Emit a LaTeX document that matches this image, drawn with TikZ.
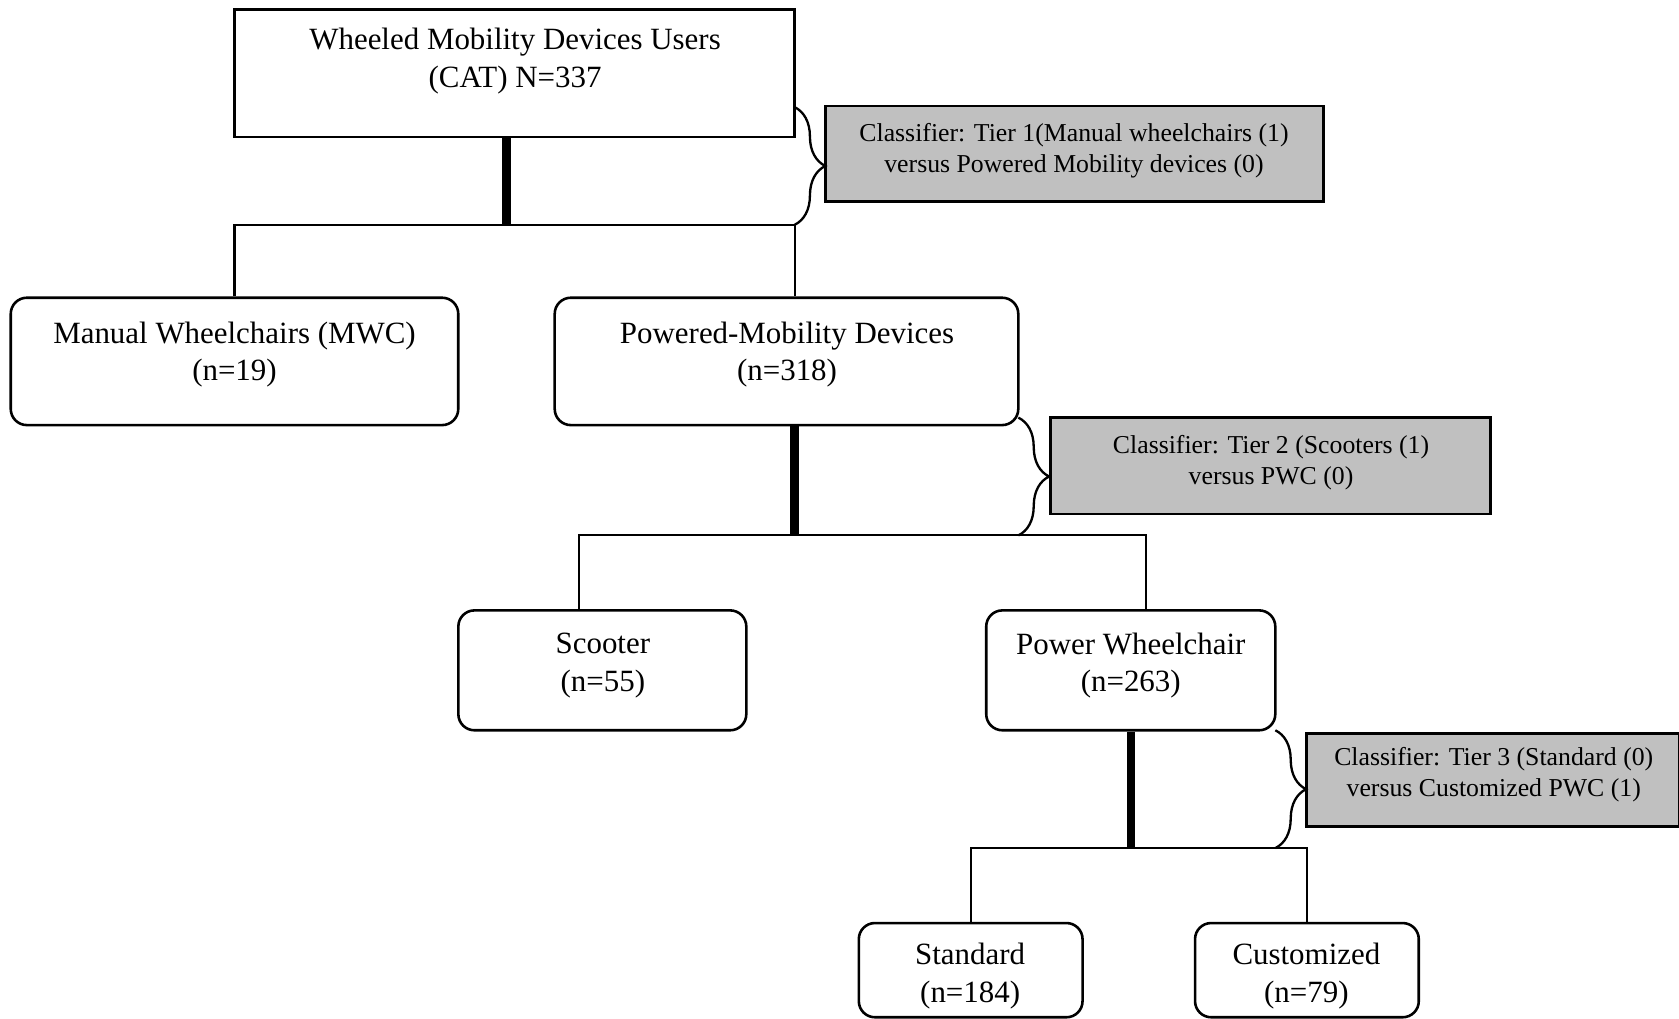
\documentclass[tikz,border=0pt]{standalone}
\usepackage{fontspec}
\setmainfont{Liberation Serif}
\usetikzlibrary{decorations.pathreplacing}
\definecolor{clsgray}{RGB}{192,192,192}
\begin{document}
\begin{tikzpicture}[x=0.0146cm,y=-0.0146cm,
  box/.style={draw,line width=1pt,inner sep=0pt},
  rbox/.style={box,rounded corners=0.22cm},
  clsbox/.style={box,fill=clsgray},
  txt/.style={align=center,inner sep=0pt,font=\fontsize{12}{14.5}\selectfont},
  clstxt/.style={align=center,inner sep=0pt,font=\fontsize{10}{12}\selectfont},
  trunk/.style={line width=3.2pt},
  branch/.style={line width=0.8pt},
  tierbrace/.style={line width=0.9pt,decorate,decoration={brace,amplitude=0.42cm}}]
 \useasboundingbox (0,0) rectangle (1568,951);
 % boxes
 \node[box,minimum width=7.636cm,minimum height=1.737cm] (top) at (480.5,68.5) {};
 \node[rbox,minimum width=6.103cm,minimum height=1.737cm] (mwc) at (219,337.5) {};
 \node[rbox,minimum width=6.322cm,minimum height=1.737cm] (pmd) at (734.5,337.5) {};
 \node[rbox,minimum width=3.927cm,minimum height=1.635cm] (scoot) at (562.5,626) {};
 \node[rbox,minimum width=3.942cm,minimum height=1.635cm] (pwc) at (1056,626) {};
 \node[rbox,minimum width=3.051cm,minimum height=1.285cm] (std) at (906.5,906) {};
 \node[rbox,minimum width=3.051cm,minimum height=1.285cm] (cust) at (1220.5,906) {};
 \node[clsbox,minimum width=6.789cm,minimum height=1.299cm] (cls1) at (1003.5,143.5) {};
 \node[clsbox,minimum width=6.001cm,minimum height=1.314cm] (cls2) at (1186.5,435) {};
 \node[clsbox,minimum width=5.081cm,minimum height=1.270cm] (cls3) at (1394,728.5) {};
 % texts
 \node[txt] (top-t) at (481,57) {Wheeled Mobility Devices Users\\(CAT) N=337};
 \node[txt] (mwc-t) at (219,331) {Manual Wheelchairs (MWC)\\(n=19)};
 \node[txt] (pmd-t) at (735,331) {Powered-Mobility Devices\\(n=318)};
 \node[txt] (scoot-t) at (563,621.5) {Scooter\\(n=55)};
 \node[txt] (pwc-t) at (1056,621.5) {Power Wheelchair\\(n=263)};
 \node[txt] (std-t) at (906,911.5) {Standard\\(n=184)};
 \node[txt] (cust-t) at (1220,911.5) {Customized\\(n=79)};
 \node[clstxt] (cls1-t) at (1003,141) {Classifier: Tier 1(Manual wheelchairs (1)\\versus Powered Mobility devices (0)};
 \node[clstxt] (cls2-t) at (1187,432) {Classifier: Tier 2 (Scooters (1)\\versus PWC (0)};
 \node[clstxt] (cls3-t) at (1395,723.5) {Classifier: Tier 3 (Standard (0)\\versus Customized PWC (1)};
 % tier 1
 \coordinate (j1) at (473,210);
 \coordinate (j1r) at (742,210);
 \coordinate (b1) at (742,100);
 \draw[trunk] (top.south -| j1) -- (j1);
 \draw[branch] (mwc.north) |- (j1r) -- (pmd.north -| j1r);
 \draw[tierbrace] (b1) -- (j1r);
 % tier 2
 \coordinate (j2) at (742,500);
 \coordinate (j2l) at (541,500);
 \coordinate (j2r) at (1070,500);
 \coordinate (b2a) at (951,390);
 \coordinate (b2b) at (951,500);
 \draw[trunk] (pmd.south -| j2) -- (j2);
 \draw[branch] (scoot.north -| j2l) -- (j2l) -- (j2r) -- (pwc.north -| j2r);
 \draw[tierbrace] (b2a) -- (b2b);
 % tier 3
 \coordinate (j3) at (1056,792);
 \coordinate (b3a) at (1191,682);
 \coordinate (b3b) at (1191,792);
 \draw[trunk] (pwc.south) -- (j3);
 \draw[branch] (std.north) |- (cust.north |- j3) -- (cust.north);
 \draw[tierbrace] (b3a) -- (b3b);
\end{tikzpicture}
\end{document}
